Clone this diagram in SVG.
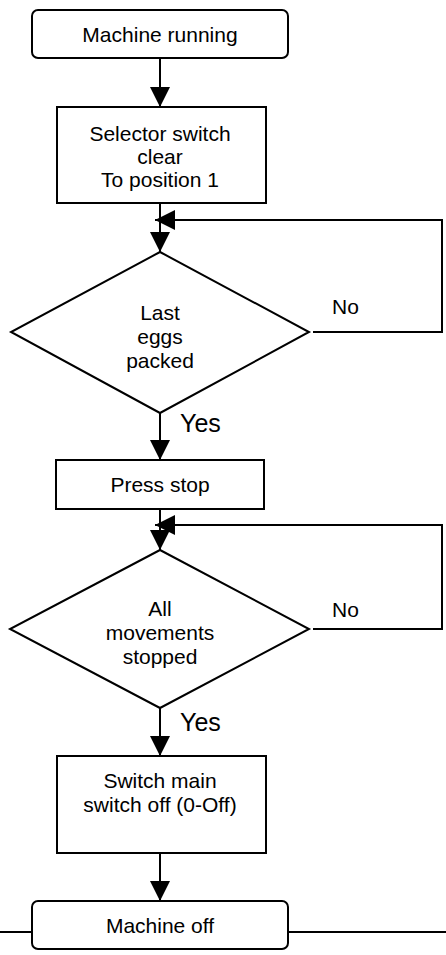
<svg xmlns="http://www.w3.org/2000/svg" width="446" height="955" viewBox="0 0 446 955">
<style>
.s{fill:#fff;stroke:#000;stroke-width:2}
.c{fill:none;stroke:#000;stroke-width:2}
text{font-family:"Liberation Sans",Arial,sans-serif;font-size:21px;fill:#000}
.m{text-anchor:middle}
.y{font-size:25px}
</style>
<defs>
<marker id="ah" markerUnits="userSpaceOnUse" markerWidth="20" markerHeight="20" refX="20" refY="10" orient="auto" viewBox="0 0 20 20">
<path d="M0,0 L20,10 L0,20 z" fill="#000"/>
</marker>
</defs>
<g id="connectors">
<line class="c" x1="160" y1="58" x2="160" y2="107" marker-end="url(#ah)"/>
<line class="c" x1="160" y1="203" x2="160" y2="252" marker-end="url(#ah)"/>
<path class="c" d="M313,332 H442 V220 H155" marker-end="url(#ah)"/>
<line class="c" x1="160" y1="413" x2="160" y2="460" marker-end="url(#ah)"/>
<line class="c" x1="160" y1="509" x2="160" y2="550" marker-end="url(#ah)"/>
<path class="c" d="M313,629 H442 V525 H155" marker-end="url(#ah)"/>
<line class="c" x1="160" y1="708" x2="160" y2="756" marker-end="url(#ah)"/>
<line class="c" x1="160" y1="853" x2="160" y2="901" marker-end="url(#ah)"/>
<line class="c" x1="0" y1="932" x2="32" y2="932"/>
<line class="c" x1="288" y1="932" x2="446" y2="932"/>
<text x="332" y="314">No</text>
<text x="332" y="617">No</text>
<text class="y" x="180" y="432">Yes</text>
<text class="y" x="180" y="731">Yes</text>
</g>
<g id="start">
<rect class="s" x="32" y="10" width="256" height="48" rx="6"/>
<text class="m" x="160" y="42">Machine running</text>
</g>
<g id="selector">
<rect class="s" x="57" y="107" width="209" height="96"/>
<text class="m" x="160" y="141">Selector switch</text>
<text class="m" x="160" y="164">clear</text>
<text class="m" x="160" y="187">To position 1</text>
</g>
<g id="lastEggs">
<polygon class="s" points="160,252 309,332 160,413 11,332"/>
<text class="m" x="160" y="320">Last</text>
<text class="m" x="160" y="344">eggs</text>
<text class="m" x="160" y="368">packed</text>
</g>
<g id="pressStop">
<rect class="s" x="56" y="460" width="208" height="49"/>
<text class="m" x="160" y="492">Press stop</text>
</g>
<g id="allStopped">
<polygon class="s" points="160,550 309,629 160,708 10,629"/>
<text class="m" x="160" y="616">All</text>
<text class="m" x="160" y="640">movements</text>
<text class="m" x="160" y="664">stopped</text>
</g>
<g id="mainSwitch">
<rect class="s" x="57" y="756" width="209" height="97"/>
<text class="m" x="160" y="788">Switch main</text>
<text class="m" x="160" y="812">switch off (0-Off)</text>
</g>
<g id="end">
<rect class="s" x="32" y="901" width="256" height="48" rx="6"/>
<text class="m" x="160" y="933">Machine off</text>
</g>
</svg>
